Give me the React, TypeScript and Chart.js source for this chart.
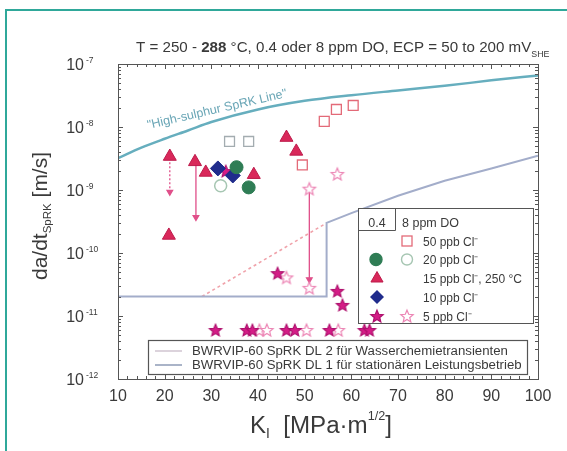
import React, { useEffect, useRef } from 'react';
import { Chart, registerables } from 'chart.js';

Chart.register(...registerables);

const FONT = '"Liberation Sans", Arial, sans-serif';

// ---- axis ticks ----
const xTickValues = [10, 20, 30, 40, 50, 60, 70, 80, 90, 100];
const yDecadeExponents = [-12, -11, -10, -9, -8, -7];

// ---- reference lines ----
const highSulphurK = [10, 15, 20, 25, 30, 40, 50, 60, 70, 80, 90, 100];
const highSulphurRate = [3.2e-9, 4.7e-9, 6.5e-9, 8.8e-9, 1.2e-8, 1.9e-8, 2.6e-8, 3.2e-8, 3.8e-8, 4.5e-8, 5.5e-8, 6.6e-8];

const dl1K = [10, 54.7, 54.7, 60, 70, 80, 90, 100];
const dl1Rate = [2.04e-11, 2.04e-11, 3.0e-10, 4.3e-10, 8.1e-10, 1.4e-9, 2.2e-9, 3.5e-9];

const dl2K = [28, 54.7];
const dl2Rate = [2.04e-11, 3.0e-10];

// ---- measured data ----
const tri15K = [21.1, 26.5, 28.8, 39.1, 46.1, 48.2, 20.9];
const tri15Rate = [3.4e-9, 2.8e-9, 1.9e-9, 1.75e-9, 6.8e-9, 4.1e-9, 1.9e-10];

const dia10K = [31.4, 34.6];
const dia10Rate = [2.2e-9, 1.7e-9];

const circ20K = [35.4, 38.0];
const circ20Rate = [2.3e-9, 1.1e-9];

const circ20OpenK = [32.0];
const circ20OpenRate = [1.17e-9];

const sq50OpenK = [54.2, 56.8, 60.4, 49.5];
const sq50OpenRate = [1.23e-8, 1.9e-8, 2.2e-8, 2.5e-9];

const sqGrayK = [33.9, 38.0];
const sqGrayRate = [5.9e-9, 5.9e-9];

const star5K = [33.1, 44.2, 57.0, 58.1, 30.9, 37.6, 38.8, 46.1, 47.9, 55.3, 62.8, 63.9];
const star5Rate = [2.0e-9, 4.8e-11, 2.5e-11, 1.5e-11, 6e-12, 6e-12, 6e-12, 6e-12, 6e-12, 6e-12, 6e-12, 6e-12];

const star5OpenK = [57.0, 51.0, 51.0, 46.1, 40.3, 41.9, 50.4, 57.2];
const star5OpenRate = [1.8e-9, 1.05e-9, 2.8e-11, 4.1e-11, 6e-12, 6e-12, 6e-12, 6e-12];

// arrows (vertical, pointing down)
const arrowK = [21.1, 26.7, 51.0];
const arrowTop = [3.2e-9, 2.6e-9, 1.0e-9];
const arrowBottom = [9.3e-10, 3.7e-10, 3.8e-11];

// ---- texts ----
const legendRows = ['50 ppb Cl⁻', '20 ppb Cl⁻', '15 ppb Cl⁻, 250 °C', '10 ppb Cl⁻', '5 ppb Cl⁻'];
const dlLegend = ['BWRVIP-60 SpRK DL 2 für Wasserchemietransienten', 'BWRVIP-60 SpRK DL 1 für stationären Leistungsbetrieb'];

const C = {
  tri: '#d9285a',
  triEdge: '#bd1a4a',
  dia: '#202c8c',
  green: '#2f7d55',
  greenOpen: '#a6c6b2',
  sqRed: '#e36a78',
  sqGray: '#a3acb0',
  star: '#d41c86',
  starEdge: '#ad0f6c',
  starOpen: '#ec84b4',
  arrow: '#e0508a',
  hs: '#66aebe',
  dl1: '#a3adca',
  dl2: '#f0a2aa',
  text: '#3a3a3a',
  frame: '#555555',
  teal: '#2fa89a',
};

function pts(k: number[], v: number[]) {
  return k.map((x, i) => ({ x, y: v[i] }));
}

function starPath(ctx: CanvasRenderingContext2D, cx: number, cy: number, R: number, r: number) {
  ctx.beginPath();
  for (let i = 0; i < 10; i++) {
    const a = -Math.PI / 2 + (i * Math.PI) / 5;
    const rad = i % 2 === 0 ? R : r;
    const px = cx + rad * Math.cos(a);
    const py = cy + rad * Math.sin(a);
    if (i === 0) ctx.moveTo(px, py);
    else ctx.lineTo(px, py);
  }
  ctx.closePath();
}

function makeStar(fill: string, stroke: string, R: number, lw: number) {
  const c = document.createElement('canvas');
  const s = Math.ceil(R * 2 + lw * 2 + 2);
  c.width = s;
  c.height = s;
  const g = c.getContext('2d')!;
  starPath(g, s / 2, s / 2 + R * 0.1, R, R * 0.45);
  g.fillStyle = fill;
  g.fill();
  g.lineWidth = lw;
  g.strokeStyle = stroke;
  g.stroke();
  return c;
}

type Seg = { t: string; s: number; w?: string; dy?: number };

function richWidth(ctx: CanvasRenderingContext2D, segs: Seg[]) {
  let w = 0;
  for (const g of segs) {
    ctx.font = `${g.w || 'normal'} ${g.s}px ${FONT}`;
    w += ctx.measureText(g.t).width;
  }
  return w;
}

function drawRich(ctx: CanvasRenderingContext2D, segs: Seg[], x: number, y: number, align: 'left' | 'center' | 'right', target?: number) {
  let k = 1;
  if (target) k = target / richWidth(ctx, segs);
  const sc = segs.map((g) => ({ ...g, s: g.s * k, dy: (g.dy || 0) * k }));
  const w = richWidth(ctx, sc);
  let cx = align === 'center' ? x - w / 2 : align === 'right' ? x - w : x;
  ctx.textAlign = 'left';
  ctx.textBaseline = 'alphabetic';
  for (const g of sc) {
    ctx.font = `${g.w || 'normal'} ${g.s}px ${FONT}`;
    ctx.fillText(g.t, cx, y + (g.dy || 0));
    cx += ctx.measureText(g.t).width;
  }
}

function mTri(ctx: CanvasRenderingContext2D, cx: number, cy: number, r: number) {
  ctx.beginPath();
  for (let i = 0; i < 3; i++) {
    const a = -Math.PI / 2 + (i * 2 * Math.PI) / 3;
    const px = cx + r * Math.cos(a);
    const py = cy + r * Math.sin(a);
    if (i === 0) ctx.moveTo(px, py);
    else ctx.lineTo(px, py);
  }
  ctx.closePath();
  ctx.fillStyle = C.tri;
  ctx.fill();
  ctx.strokeStyle = C.triEdge;
  ctx.lineWidth = 1;
  ctx.stroke();
}

function mDia(ctx: CanvasRenderingContext2D, cx: number, cy: number, r: number) {
  ctx.beginPath();
  ctx.moveTo(cx, cy - r);
  ctx.lineTo(cx + r, cy);
  ctx.lineTo(cx, cy + r);
  ctx.lineTo(cx - r, cy);
  ctx.closePath();
  ctx.fillStyle = C.dia;
  ctx.fill();
}

function mCirc(ctx: CanvasRenderingContext2D, cx: number, cy: number, r: number, fill: string | null, stroke: string) {
  ctx.beginPath();
  ctx.arc(cx, cy, r, 0, Math.PI * 2);
  if (fill) {
    ctx.fillStyle = fill;
    ctx.fill();
  }
  ctx.strokeStyle = stroke;
  ctx.lineWidth = 1.4;
  ctx.stroke();
}

function mSq(ctx: CanvasRenderingContext2D, cx: number, cy: number, h: number, stroke: string) {
  ctx.strokeStyle = stroke;
  ctx.lineWidth = 1.3;
  ctx.strokeRect(cx - h, cy - h, 2 * h, 2 * h);
}

function mStar(ctx: CanvasRenderingContext2D, cx: number, cy: number, R: number, fill: string, stroke: string) {
  starPath(ctx, cx, cy + R * 0.1, R, R * 0.45);
  ctx.fillStyle = fill;
  ctx.fill();
  ctx.strokeStyle = stroke;
  ctx.lineWidth = 1.2;
  ctx.stroke();
}

const overlay = {
  id: 'overlay',
  afterDraw(chart: any) {
    const ctx: CanvasRenderingContext2D = chart.ctx;
    const a = chart.chartArea;
    const xs = chart.scales.x;
    const ys = chart.scales.y;
    ctx.save();

    // outer teal frame
    ctx.strokeStyle = C.teal;
    ctx.lineWidth = 2;
    ctx.beginPath();
    ctx.moveTo(6, 451);
    ctx.lineTo(6, 10);
    ctx.lineTo(567, 10);
    ctx.stroke();

    // plot frame
    ctx.strokeStyle = C.frame;
    ctx.lineWidth = 1;
    ctx.strokeRect(Math.round(a.left) + 0.5, Math.round(a.top) + 0.5, Math.round(a.right - a.left), Math.round(a.bottom - a.top));

    // inner ticks
    ctx.beginPath();
    for (let v = 10; v <= 100; v += 2) {
      const px = Math.round(xs.getPixelForValue(v)) + 0.5;
      const len = v % 10 === 0 ? 5 : 3;
      ctx.moveTo(px, a.bottom);
      ctx.lineTo(px, a.bottom - len);
      ctx.moveTo(px, a.top);
      ctx.lineTo(px, a.top + len);
    }
    for (let e = -12; e < -7; e++) {
      for (let m = 1; m <= 9; m++) {
        const py = Math.round(ys.getPixelForValue(m * Math.pow(10, e))) + 0.5;
        const len = m === 1 ? 5 : 3;
        ctx.moveTo(a.left, py);
        ctx.lineTo(a.left + len, py);
        ctx.moveTo(a.right, py);
        ctx.lineTo(a.right - len, py);
      }
    }
    ctx.stroke();

    ctx.fillStyle = C.text;
    // x tick labels
    for (const v of xTickValues) {
      const px = xs.getPixelForValue(v);
      drawRich(ctx, [{ t: String(v), s: 16 }], px, 401, 'center');
    }
    // y tick labels
    for (const e of yDecadeExponents) {
      const py = ys.getPixelForValue(Math.pow(10, e));
      drawRich(ctx, [{ t: '10', s: 16 }], 84, py + 6, 'right');
      drawRich(ctx, [{ t: String(e), s: 8.5 }], 86, py - 1, 'left');
    }

    // title
    drawRich(
      ctx,
      [
        { t: 'T = 250 - ', s: 12 },
        { t: '288', s: 12, w: 'bold' },
        { t: ' °C, 0.4 oder 8 ppm DO, ECP = 50 to 200 mV', s: 12 },
        { t: 'SHE', s: 7, dy: 4 },
      ],
      136,
      52,
      'left',
      414
    );

    // x axis title
    drawRich(
      ctx,
      [
        { t: 'K', s: 21 },
        { t: 'I', s: 12, dy: 4 },
        { t: '  [MPa·m', s: 21 },
        { t: '1/2', s: 11, dy: -11 },
        { t: ']', s: 21 },
      ],
      250,
      433,
      'left',
      142
    );

    // y axis title
    ctx.save();
    ctx.translate(47, 216);
    ctx.rotate(-Math.PI / 2);
    drawRich(
      ctx,
      [
        { t: 'da/dt', s: 20 },
        { t: 'SpRK', s: 11, dy: 4 },
        { t: ' [m/s]', s: 20 },
      ],
      0,
      0,
      'center',
      128
    );
    ctx.restore();

    // label on high-sulphur line
    ctx.save();
    ctx.translate(217, 109);
    ctx.rotate((-13 * Math.PI) / 180);
    ctx.fillStyle = '#6aa6b6';
    drawRich(ctx, [{ t: '"High-sulphur SpRK Line"', s: 11 }], 0, 4, 'center', 143);
    ctx.restore();

    // upper legend
    ctx.fillStyle = '#ffffff';
    ctx.fillRect(358.5, 208.5, 175, 115);
    ctx.strokeStyle = C.frame;
    ctx.lineWidth = 1;
    ctx.strokeRect(358.5, 208.5, 175, 115);
    ctx.beginPath();
    ctx.moveTo(395.5, 208.5);
    ctx.lineTo(395.5, 230.5);
    ctx.moveTo(358.5, 230.5);
    ctx.lineTo(395.5, 230.5);
    ctx.stroke();
    ctx.fillStyle = C.text;
    drawRich(ctx, [{ t: '0.4', s: 12.5 }], 377, 226.5, 'center');
    drawRich(ctx, [{ t: '8 ppm DO', s: 12.5 }], 402, 226.5, 'left');
    const rowY = [241, 259.5, 278.5, 297, 316];
    rowY.forEach((ry, i) => {
      ctx.fillStyle = C.text;
      drawRich(ctx, [{ t: legendRows[i], s: 12 }], 423, ry + 4.5, 'left');
    });
    mSq(ctx, 407, rowY[0], 5, C.sqRed);
    mCirc(ctx, 376, rowY[1], 6, C.green, C.green);
    mCirc(ctx, 407, rowY[1], 5.5, '#ffffff', C.greenOpen);
    mTri(ctx, 377, rowY[2], 7);
    mDia(ctx, 377, rowY[3], 7);
    mStar(ctx, 377, rowY[4], 6.5, C.star, C.starEdge);
    mStar(ctx, 407, rowY[4], 6.5, '#ffffff', C.starOpen);

    // lower legend (DL lines)
    ctx.fillStyle = '#ffffff';
    ctx.fillRect(148.5, 340.5, 379, 34);
    ctx.strokeStyle = C.frame;
    ctx.strokeRect(148.5, 340.5, 379, 34);
    ctx.lineWidth = 2;
    ctx.strokeStyle = '#dcd3dc';
    ctx.beginPath();
    ctx.moveTo(155, 351);
    ctx.lineTo(182, 351);
    ctx.stroke();
    ctx.strokeStyle = '#aab4c8';
    ctx.beginPath();
    ctx.moveTo(155, 365);
    ctx.lineTo(182, 365);
    ctx.stroke();
    ctx.fillStyle = C.text;
    ctx.font = `11px ${FONT}`;
    const k = 330 / richWidth(ctx, [{ t: dlLegend[1], s: 11 }]);
    drawRich(ctx, [{ t: dlLegend[0], s: 11 * k }], 192, 355, 'left');
    drawRich(ctx, [{ t: dlLegend[1], s: 11 * k }], 192, 369, 'left');

    ctx.restore();
  },
};

export default function App() {
  const ref = useRef<HTMLCanvasElement | null>(null);

  useEffect(() => {
    document.body.style.margin = '0';
    const canvas = ref.current;
    if (!canvas) return;

    const starFilled = makeStar(C.star, C.starEdge, 6.5, 1.1);
    const starOpen = makeStar('#ffffff', C.starOpen, 6.5, 1.2);

    const lineBase = { showLine: true, pointRadius: 0, pointHoverRadius: 0, fill: false, order: 10 };

    const arrowSets = arrowK.map((k, i) => ({
      label: 'arrow' + i,
      data: [
        { x: k, y: arrowTop[i] },
        { x: k, y: arrowBottom[i] },
      ],
      showLine: true,
      borderColor: C.arrow,
      borderWidth: 1.3,
      borderDash: i === 0 ? [2, 2] : [],
      pointRadius: [0, 3.2],
      pointStyle: 'triangle',
      rotation: 180,
      pointBackgroundColor: C.arrow,
      pointBorderColor: C.arrow,
      order: 5,
    }));

    const chart = new Chart(canvas, {
      type: 'scatter',
      data: {
        datasets: [
          { label: 'hs', data: pts(highSulphurK, highSulphurRate), ...lineBase, borderColor: C.hs, borderWidth: 2.5, cubicInterpolationMode: 'monotone' },
          { label: 'dl1', data: pts(dl1K, dl1Rate), ...lineBase, borderColor: C.dl1, borderWidth: 2, tension: 0 },
          { label: 'dl2', data: pts(dl2K, dl2Rate), ...lineBase, borderColor: C.dl2, borderWidth: 1.6, borderDash: [3, 3] },
          ...arrowSets,
          { label: 'sqGray', data: pts(sqGrayK, sqGrayRate), pointStyle: 'rect', pointRadius: 7, pointBackgroundColor: 'rgba(255,255,255,0)', pointBorderColor: C.sqGray, pointBorderWidth: 1.3, order: 2 },
          { label: 'sq50', data: pts(sq50OpenK, sq50OpenRate), pointStyle: 'rect', pointRadius: 7, pointBackgroundColor: 'rgba(255,255,255,0)', pointBorderColor: C.sqRed, pointBorderWidth: 1.3, order: 2 },
          { label: 'circOpen', data: pts(circ20OpenK, circ20OpenRate), pointStyle: 'circle', pointRadius: 6, pointBackgroundColor: '#ffffff', pointBorderColor: C.greenOpen, pointBorderWidth: 1.5, order: 2 },
          { label: 'starOpen', data: pts(star5OpenK, star5OpenRate), pointStyle: starOpen, pointRadius: 6, order: 2 },
          { label: 'tri', data: pts(tri15K, tri15Rate), pointStyle: 'triangle', pointRadius: 7.5, pointBackgroundColor: C.tri, pointBorderColor: C.triEdge, pointBorderWidth: 1, order: 1 },
          { label: 'green', data: pts(circ20K, circ20Rate), pointStyle: 'circle', pointRadius: 6.5, pointBackgroundColor: C.green, pointBorderColor: C.green, pointBorderWidth: 1, order: 1 },
          { label: 'dia', data: pts(dia10K, dia10Rate), pointStyle: 'rectRot', pointRadius: 7.5, pointBackgroundColor: C.dia, pointBorderColor: C.dia, pointBorderWidth: 1, order: 1 },
          { label: 'star', data: pts(star5K, star5Rate), pointStyle: starFilled, pointRadius: 6, order: 1 },
        ] as any,
      },
      options: {
        animation: false,
        responsive: false,
        devicePixelRatio: 1,
        layout: { padding: { left: 10, right: 29, top: 64, bottom: 10 } },
        plugins: { legend: { display: false }, tooltip: { enabled: false }, title: { display: false } },
        scales: {
          x: {
            type: 'linear',
            min: 10,
            max: 100,
            grid: { display: false, drawTicks: false },
            border: { display: false },
            ticks: { display: false },
            afterFit: (s: any) => {
              s.height = 62;
            },
          },
          y: {
            type: 'logarithmic',
            min: 1e-12,
            max: 1e-7,
            grid: { display: false, drawTicks: false },
            border: { display: false },
            ticks: { display: false },
            afterFit: (s: any) => {
              s.width = 108;
            },
          },
        },
      } as any,
      plugins: [overlay],
    });

    return () => chart.destroy();
  }, []);

  return (
    <div style={{ width: 567, height: 451, background: '#ffffff' }}>
      <canvas ref={ref} width={567} height={451} style={{ display: 'block', width: 567, height: 451 }} />
    </div>
  );
}
